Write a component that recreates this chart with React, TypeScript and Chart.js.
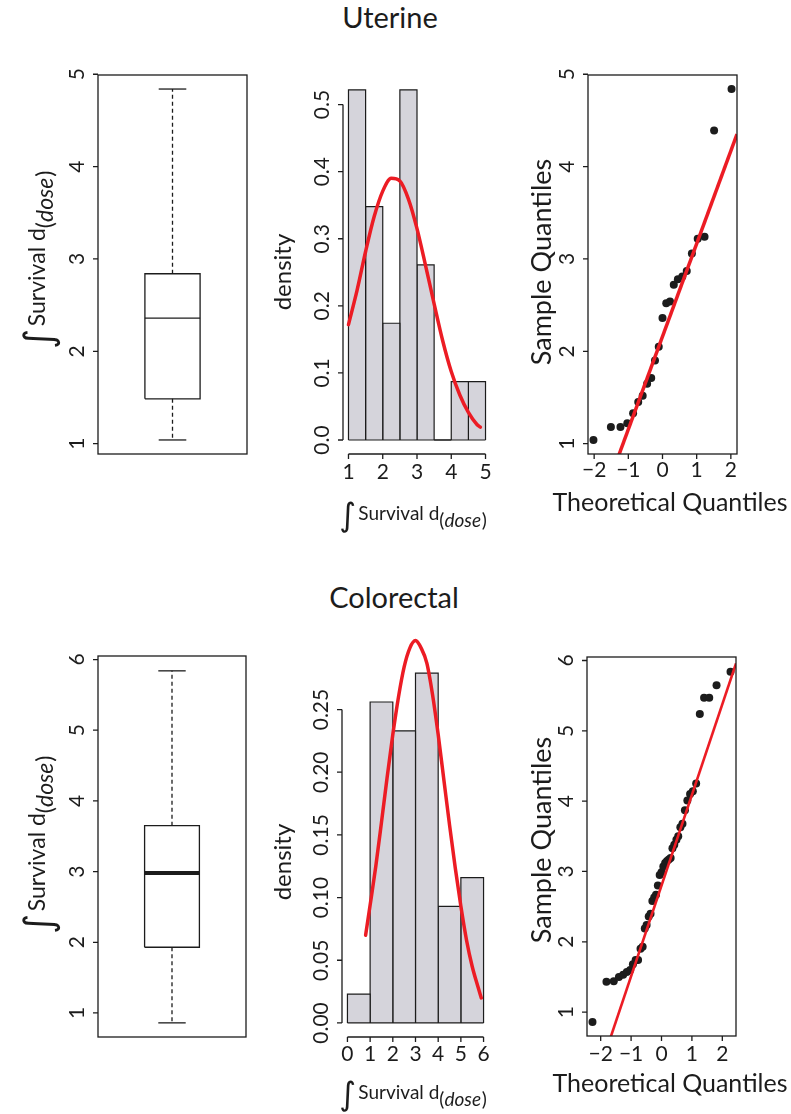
import React, { useEffect, useRef } from 'react';
import { Chart, registerables } from 'chart.js';

Chart.register(...registerables);

const INK = '#1c1c1c';
const RED = '#ec1c24';
const BAR = '#d5d4db';
const FONT = 'Lato, "Open Sans", sans-serif';

// ---------- data ----------
// boxplot stats: [lower whisker, lower hinge, median, upper hinge, upper whisker]
const uterineBox = [1.04, 1.485, 2.36, 2.84, 4.84];
const colorectalBox = [0.86, 1.93, 2.98, 3.65, 5.84];

// histograms (density scale)
const uterineBinEdges = [1, 1.5, 2, 2.5, 3, 3.5, 4, 4.5, 5];
const uterineDensity = [0.522, 0.348, 0.174, 0.522, 0.261, 0, 0.087, 0.087];
const colorectalBinEdges = [0, 1, 2, 3, 4, 5, 6];
const colorectalDensity = [0.023, 0.256, 0.233, 0.279, 0.093, 0.116];

// fitted density curves
const uterineCurveX = [1.0, 1.25, 1.5, 1.75, 2.0, 2.25, 2.5, 2.75, 3.0, 3.25, 3.5, 3.75, 4.0, 4.25, 4.5, 4.75, 4.85];
const uterineCurveY = [0.172, 0.223, 0.281, 0.333, 0.371, 0.39, 0.386, 0.359, 0.315, 0.26, 0.203, 0.148, 0.102, 0.067, 0.041, 0.023, 0.019];
const colorectalCurveX = [0.8, 1.0, 1.25, 1.5, 1.75, 2.0, 2.25, 2.5, 2.75, 3.0, 3.25, 3.5, 3.75, 4.0, 4.25, 4.5, 4.75, 5.0, 5.25, 5.5, 5.75, 5.9];
const colorectalCurveY = [0.07, 0.094, 0.125, 0.16, 0.196, 0.23, 0.26, 0.284, 0.299, 0.305, 0.299, 0.287, 0.262, 0.23, 0.194, 0.158, 0.124, 0.093, 0.066, 0.045, 0.029, 0.02];

// normal Q-Q points
const uterineTheoretical = [-2.02, -1.51, -1.23, -1.03, -0.86, -0.71, -0.58, -0.45, -0.33, -0.22, -0.11, 0, 0.11, 0.22, 0.33, 0.45, 0.58, 0.71, 0.86, 1.03, 1.23, 1.51, 2.02];
const uterineSample = [1.04, 1.18, 1.18, 1.22, 1.33, 1.45, 1.52, 1.65, 1.71, 1.9, 2.05, 2.36, 2.52, 2.54, 2.72, 2.78, 2.81, 2.87, 3.06, 3.22, 3.24, 4.39, 4.84];
const colorectalTheoretical = [-2.27, -1.81, -1.57, -1.4, -1.26, -1.14, -1.03, -0.94, -0.85, -0.77, -0.69, -0.62, -0.55, -0.49, -0.42, -0.36, -0.3, -0.24, -0.18, -0.12, -0.06, 0, 0.06, 0.12, 0.18, 0.24, 0.3, 0.36, 0.42, 0.49, 0.55, 0.62, 0.69, 0.77, 0.85, 0.94, 1.03, 1.14, 1.26, 1.4, 1.57, 1.81, 2.27];
const colorectalSample = [0.86, 1.43, 1.44, 1.5, 1.53, 1.57, 1.6, 1.68, 1.74, 1.74, 1.9, 1.93, 2.19, 2.24, 2.36, 2.4, 2.58, 2.63, 2.67, 2.8, 2.95, 2.99, 3.07, 3.12, 3.15, 3.17, 3.19, 3.33, 3.38, 3.45, 3.5, 3.63, 3.68, 3.87, 4.01, 4.1, 4.14, 4.25, 5.24, 5.47, 5.47, 5.65, 5.84];
// Q-Q reference lines: [intercept, slope]
const uterineQQLine = [2.16, 1.005];
const colorectalQQLine = [2.8, 1.29];

// ticks
const uterineValueTicks = [1, 2, 3, 4, 5];
const colorectalValueTicks = [1, 2, 3, 4, 5, 6];
const uterineDensityTicks = [0, 0.1, 0.2, 0.3, 0.4, 0.5];
const uterineDensityLabels = ['0.0', '0.1', '0.2', '0.3', '0.4', '0.5'];
const colorectalDensityTicks = [0, 0.05, 0.1, 0.15, 0.2, 0.25];
const colorectalDensityLabels = ['0.00', '0.05', '0.10', '0.15', '0.20', '0.25'];
const uterineHistXTicks = [1, 2, 3, 4, 5];
const colorectalHistXTicks = [0, 1, 2, 3, 4, 5, 6];
const qqXTicks = [-2, -1, 0, 1, 2];
const qqXLabels = ['\u22122', '\u22121', '0', '1', '2'];

// ---------- drawing helpers ----------
type Title = { kind: 'text' | 'dose'; text?: string; x: number; y: number; rot: boolean; size: number };

interface Panel {
  id: string;
  canvas: [number, number, number, number];
  area: [number, number, number, number];
  xRange: [number, number];
  yRange: [number, number];
  frame: boolean;
  xTicks: number[];
  xLabels: string[];
  xLabelY: number;
  yTicks: number[];
  yLabels: string[];
  titles: Title[];
  datasets: any[];
}

const TICK = 5;
const YLABEL_OFF = 22;
const TICK_FONT = `21px ${FONT}`;

function drawDose(ctx: CanvasRenderingContext2D, x: number, y: number, rot: boolean, s: number) {
  ctx.save();
  ctx.translate(x, y);
  if (rot) ctx.rotate(-Math.PI / 2);
  const parts = [
    { t: '\u222B', f: `${1.7 * s}px "DejaVu Sans"`, dy: 0.32 * s, gap: 0.12 * s },
    { t: 'Survival d', f: `${s}px ${FONT}`, dy: 0, gap: 0 },
    { t: '(', f: `${s}px ${FONT}`, dy: 0.36 * s, gap: 0 },
    { t: 'dose', f: `italic ${s}px ${FONT}`, dy: 0.36 * s, gap: 0.04 * s },
    { t: ')', f: `${s}px ${FONT}`, dy: 0.36 * s, gap: 0 },
  ];
  let total = 0;
  const widths = parts.map((p) => {
    ctx.font = p.f;
    const w = ctx.measureText(p.t).width;
    total += w + p.gap;
    return w;
  });
  let cx = -total / 2;
  ctx.textAlign = 'left';
  ctx.textBaseline = 'alphabetic';
  ctx.fillStyle = INK;
  parts.forEach((p, i) => {
    ctx.font = p.f;
    ctx.fillText(p.t, cx, p.dy);
    cx += widths[i] + p.gap;
  });
  ctx.restore();
}

function rPlugin(p: Panel) {
  return {
    id: 'rPlot_' + p.id,
    afterDraw(chart: any) {
      const ctx: CanvasRenderingContext2D = chart.ctx;
      const a = chart.chartArea;
      const xs = chart.scales.x;
      const ys = chart.scales.y;
      const ox = p.canvas[0];
      const oy = p.canvas[1];
      ctx.save();
      ctx.strokeStyle = INK;
      ctx.fillStyle = INK;
      ctx.lineWidth = 1.3;
      if (p.frame) ctx.strokeRect(a.left, a.top, a.right - a.left, a.bottom - a.top);

      // y axis
      const yPix = p.yTicks.map((v) => ys.getPixelForValue(v));
      ctx.beginPath();
      if (!p.frame && yPix.length) {
        ctx.moveTo(a.left, yPix[0]);
        ctx.lineTo(a.left, yPix[yPix.length - 1]);
      }
      yPix.forEach((py) => {
        ctx.moveTo(a.left, py);
        ctx.lineTo(a.left - TICK, py);
      });
      ctx.stroke();
      ctx.font = TICK_FONT;
      ctx.textAlign = 'center';
      ctx.textBaseline = 'middle';
      yPix.forEach((py, i) => {
        ctx.save();
        ctx.translate(a.left - YLABEL_OFF, py);
        ctx.rotate(-Math.PI / 2);
        ctx.fillText(p.yLabels[i], 0, 1);
        ctx.restore();
      });

      // x axis
      const xPix = p.xTicks.map((v) => xs.getPixelForValue(v));
      ctx.beginPath();
      if (!p.frame && xPix.length) {
        ctx.moveTo(xPix[0], a.bottom);
        ctx.lineTo(xPix[xPix.length - 1], a.bottom);
      }
      xPix.forEach((px) => {
        ctx.moveTo(px, a.bottom);
        ctx.lineTo(px, a.bottom + TICK);
      });
      ctx.stroke();
      xPix.forEach((px, i) => {
        ctx.fillText(p.xLabels[i], px, p.xLabelY - oy);
      });

      // axis titles
      p.titles.forEach((t) => {
        const tx = t.x - ox;
        const ty = t.y - oy;
        if (t.kind === 'dose') {
          drawDose(ctx, tx, ty, t.rot, t.size);
        } else {
          ctx.save();
          ctx.translate(tx, ty);
          if (t.rot) ctx.rotate(-Math.PI / 2);
          ctx.font = `${t.size}px ${FONT}`;
          ctx.textAlign = 'center';
          ctx.textBaseline = 'middle';
          ctx.fillText(t.text || '', 0, 0);
          ctx.restore();
        }
      });
      ctx.restore();
    },
  };
}

function boxDatasets(b: number[], medianWidth: number) {
  const [mn, q1, med, q3, mx] = b;
  const base = { borderColor: INK, borderWidth: 1.3, pointRadius: 0, fill: false, tension: 0, borderJoinStyle: 'miter' };
  return [
    { ...base, data: [{ x: 0.8, y: q1 }, { x: 1.2, y: q1 }, { x: 1.2, y: q3 }, { x: 0.8, y: q3 }, { x: 0.8, y: q1 }] },
    { ...base, borderWidth: medianWidth, data: [{ x: 0.8, y: med }, { x: 1.2, y: med }] },
    { ...base, borderDash: [4, 3], data: [{ x: 1, y: q3 }, { x: 1, y: mx }] },
    { ...base, borderDash: [4, 3], data: [{ x: 1, y: q1 }, { x: 1, y: mn }] },
    { ...base, data: [{ x: 0.9, y: mx }, { x: 1.1, y: mx }] },
    { ...base, data: [{ x: 0.9, y: mn }, { x: 1.1, y: mn }] },
  ];
}

function histDatasets(edges: number[], dens: number[], cxs: number[], cys: number[]) {
  const curve = {
    data: cxs.map((x, i) => ({ x, y: cys[i] })),
    borderColor: RED,
    borderWidth: 3.5,
    pointRadius: 0,
    cubicInterpolationMode: 'monotone',
    fill: false,
    clip: false,
    borderCapStyle: 'round',
  };
  // bottom edge shared by all bars
  const baseline = {
    data: [{ x: edges[0], y: 0 }, { x: edges[edges.length - 1], y: 0 }],
    borderColor: INK,
    borderWidth: 1.2,
    pointRadius: 0,
    fill: false,
  };
  const bars = dens.map((d, i) => ({
    data: [
      { x: edges[i], y: 0 },
      { x: edges[i], y: d },
      { x: edges[i + 1], y: d },
      { x: edges[i + 1], y: 0 },
    ],
    borderColor: INK,
    borderWidth: 1.2,
    backgroundColor: BAR,
    fill: 'origin',
    pointRadius: 0,
    tension: 0,
  }));
  return [curve, baseline, ...bars];
}

function qqDatasets(tx: number[], sy: number[], line: number[], xr: [number, number], lw: number) {
  const [a, b] = line;
  return [
    {
      data: [{ x: xr[0], y: a + b * xr[0] }, { x: xr[1], y: a + b * xr[1] }],
      borderColor: RED,
      borderWidth: lw,
      pointRadius: 0,
      clip: 0,
      fill: false,
    },
    {
      data: tx.map((x, i) => ({ x, y: sy[i] })),
      showLine: false,
      pointRadius: 4,
      pointBackgroundColor: INK,
      pointBorderColor: INK,
      pointBorderWidth: 0,
      borderWidth: 0,
    },
  ];
}

const uterineBoxRange: [number, number] = [0.888, 4.992];
const colorectalRange: [number, number] = [0.66, 6.05];

const panels: Panel[] = [
  {
    id: 'ubox',
    canvas: [0, 40, 265, 500],
    area: [98, 75, 247, 454],
    xRange: [0.46, 1.54],
    yRange: uterineBoxRange,
    frame: true,
    xTicks: [],
    xLabels: [],
    xLabelY: 0,
    yTicks: uterineValueTicks,
    yLabels: uterineValueTicks.map(String),
    titles: [{ kind: 'dose', x: 45, y: 260, rot: true, size: 23 }],
    datasets: boxDatasets(uterineBox, 1.3),
  },
  {
    id: 'uhist',
    canvas: [265, 40, 260, 500],
    area: [343, 76, 491, 454],
    xRange: [0.84, 5.16],
    yRange: [-0.0209, 0.5426],
    frame: false,
    xTicks: uterineHistXTicks,
    xLabels: uterineHistXTicks.map(String),
    xLabelY: 472,
    yTicks: uterineDensityTicks,
    yLabels: uterineDensityLabels,
    titles: [
      { kind: 'text', text: 'density', x: 283, y: 272, rot: true, size: 24 },
      { kind: 'dose', x: 413, y: 520, rot: false, size: 19 },
    ],
    datasets: histDatasets(uterineBinEdges, uterineDensity, uterineCurveX, uterineCurveY),
  },
  {
    id: 'uqq',
    canvas: [525, 40, 266, 500],
    area: [588, 75, 737, 454],
    xRange: [-2.18, 2.18],
    yRange: uterineBoxRange,
    frame: true,
    xTicks: qqXTicks,
    xLabels: qqXLabels,
    xLabelY: 470,
    yTicks: uterineValueTicks,
    yLabels: uterineValueTicks.map(String),
    titles: [
      { kind: 'text', text: 'Sample Quantiles', x: 542, y: 262, rot: true, size: 27 },
      { kind: 'text', text: 'Theoretical Quantiles', x: 670, y: 503, rot: false, size: 25 },
    ],
    datasets: qqDatasets(uterineTheoretical, uterineSample, uterineQQLine, [-2.18, 2.18], 3.5),
  },
  {
    id: 'cbox',
    canvas: [0, 620, 265, 494],
    area: [98, 656, 246, 1037],
    xRange: [0.46, 1.54],
    yRange: colorectalRange,
    frame: true,
    xTicks: [],
    xLabels: [],
    xLabelY: 0,
    yTicks: colorectalValueTicks,
    yLabels: colorectalValueTicks.map(String),
    titles: [{ kind: 'dose', x: 45, y: 845, rot: true, size: 23 }],
    datasets: boxDatasets(colorectalBox, 4),
  },
  {
    id: 'chist',
    canvas: [265, 620, 260, 494],
    area: [342, 659, 489, 1037],
    xRange: [-0.24, 6.24],
    yRange: [-0.0112, 0.2903],
    frame: false,
    xTicks: colorectalHistXTicks,
    xLabels: colorectalHistXTicks.map(String),
    xLabelY: 1054,
    yTicks: colorectalDensityTicks,
    yLabels: colorectalDensityLabels,
    titles: [
      { kind: 'text', text: 'density', x: 283, y: 862, rot: true, size: 24 },
      { kind: 'dose', x: 413, y: 1099, rot: false, size: 19 },
    ],
    datasets: histDatasets(colorectalBinEdges, colorectalDensity, colorectalCurveX, colorectalCurveY),
  },
  {
    id: 'cqq',
    canvas: [525, 620, 266, 494],
    area: [587, 657, 736, 1036],
    xRange: [-2.45, 2.45],
    yRange: colorectalRange,
    frame: true,
    xTicks: qqXTicks,
    xLabels: qqXLabels,
    xLabelY: 1054,
    yTicks: colorectalValueTicks,
    yLabels: colorectalValueTicks.map(String),
    titles: [
      { kind: 'text', text: 'Sample Quantiles', x: 542, y: 840, rot: true, size: 27 },
      { kind: 'text', text: 'Theoretical Quantiles', x: 670, y: 1084, rot: false, size: 25 },
    ],
    datasets: qqDatasets(colorectalTheoretical, colorectalSample, colorectalQQLine, [-2.45, 2.45], 2.6),
  },
];

function PanelChart({ p }: { p: Panel }) {
  const ref = useRef<HTMLCanvasElement>(null);
  const [cl, ct, cw, ch] = p.canvas;
  useEffect(() => {
    const c = ref.current;
    if (!c) return;
    const [al, at, ar, ab] = p.area;
    const chart = new Chart(c, {
      type: 'line',
      data: { datasets: p.datasets },
      options: {
        animation: false,
        responsive: false,
        maintainAspectRatio: false,
        events: [],
        layout: { padding: { left: al - cl, top: at - ct, right: cl + cw - ar, bottom: ct + ch - ab } },
        plugins: { legend: { display: false }, tooltip: { enabled: false }, title: { display: false } },
        scales: {
          x: { type: 'linear', display: false, min: p.xRange[0], max: p.xRange[1] },
          y: { type: 'linear', display: false, min: p.yRange[0], max: p.yRange[1] },
        },
      } as any,
      plugins: [rPlugin(p)],
    });
    return () => chart.destroy();
  }, []);
  return (
    <canvas
      ref={ref}
      width={cw}
      height={ch}
      style={{ position: 'absolute', left: cl, top: ct, width: cw, height: ch }}
    />
  );
}

export default function App() {
  const titleStyle: React.CSSProperties = {
    position: 'absolute',
    width: 400,
    textAlign: 'center',
    font: `29px ${FONT}`,
    lineHeight: '32px',
    color: INK,
  };
  return (
    <div style={{ position: 'absolute', left: 0, top: 0, width: 791, height: 1114, background: '#fff', overflow: 'hidden' }}>
      <div style={{ ...titleStyle, left: 190, top: 1 }}>Uterine</div>
      <div style={{ ...titleStyle, left: 194, top: 581 }}>Colorectal</div>
      {panels.map((p) => (
        <PanelChart key={p.id} p={p} />
      ))}
    </div>
  );
}
